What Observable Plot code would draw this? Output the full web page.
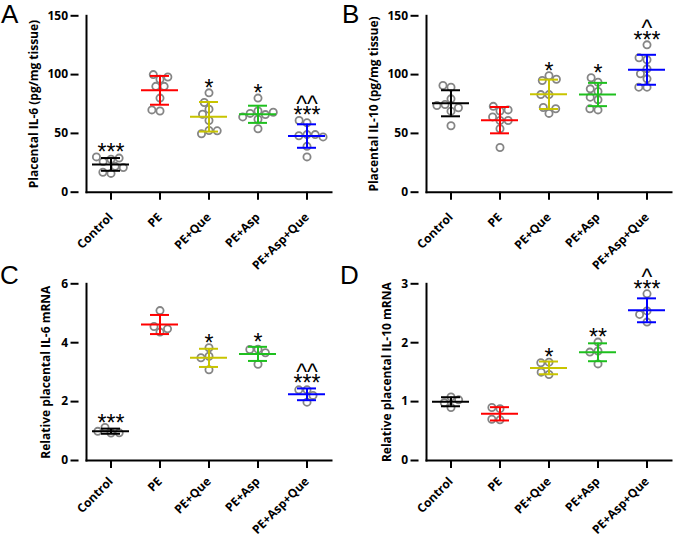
<!DOCTYPE html>
<html><head><meta charset="utf-8">
<script src="https://cdn.jsdelivr.net/npm/d3@7"></script>
<script src="https://cdn.jsdelivr.net/npm/@observablehq/plot@0.6"></script>
<style>
body{margin:0;background:#fff;}
#wrap{position:relative;width:685px;height:538px;}
.panel{position:absolute;}
.letter{position:absolute;font-family:"Liberation Sans",Arial,sans-serif;font-size:26px;line-height:1;color:#000;}
</style></head><body><div id="wrap"></div>
<script>
const categories = ["Control", "PE", "PE+Que", "PE+Asp", "PE+Asp+Que"];
const groupColors = ["#000000", "#ff0000", "#c8c400", "#1ec01e", "#0000ff"];

// Panel A: placental IL-6 protein (pg/mg tissue)
const il6Protein = [
  [28, 26, 29, 30, 22, 16, 17, 21],
  [96, 100, 98, 90, 90, 80, 69, 70],
  [84.5, 70.6, 76.3, 66.3, 61, 52.5, 49.7, 52.2],
  [80, 69, 67, 66, 68, 64, 62, 54],
  [59, 61, 49, 48, 49, 47, 39, 30]
];
// Panel B: placental IL-10 protein (pg/mg tissue)
const il10Protein = [
  [89.3, 90.7, 79.4, 68.9, 74.6, 71.8, 73.7, 56.5],
  [69, 73, 70, 61, 64, 61, 54, 38],
  [99, 95, 96, 83, 83, 67, 72, 71],
  [93.5, 97.3, 85.6, 87.9, 78.6, 80.8, 70, 70.9],
  [125.3, 112.6, 114.3, 104.9, 100.7, 96.4, 89.3, 89.3]
];
// Panel C: relative IL-6 mRNA
const il6mRNA = [
  [0.93, 1.12, 0.94, 0.99],
  [5.09, 4.36, 4.55, 4.47],
  [3.83, 3.54, 3.49, 3.08],
  [3.78, 3.77, 3.66, 3.27],
  [2.40, 2.40, 2.21, 1.98]
];
// Panel D: relative IL-10 mRNA
const il10mRNA = [
  [1.08, 0.90, 0.98, 1.03],
  [0.88, 0.90, 0.69, 0.70],
  [1.67, 1.66, 1.46, 1.50],
  [2.01, 1.86, 1.84, 1.64],
  [2.83, 2.54, 2.48, 2.35]
];

// significance marks ("^" line sits above the "*" line)
const marksA = ["***", "", "*", "*", "^^\n***"];
const marksB = ["", "", "*", "*", "^\n***"];
const marksC = ["***", "", "*", "*", "^^\n***"];
const marksD = ["", "", "*", "**", "^\n***"];

const ticksProtein = [0, 50, 100, 150];
const ticksIL6mRNA = [0, 2, 4, 6];
const ticksIL10mRNA = [0, 1, 2, 3];

const W = 342, ML = 76, MR = 2, PAD_OUT = 0.15;
const outerGap = PAD_OUT * (W - ML - MR) / (categories.length + 2 * PAD_OUT);

function panel({values, marks, yMax, yTicks, label, labelOffset, height, marginTop, marginBottom, catPadding}) {
  const points = values.flatMap((vals, i) => vals.map(v => ({group: categories[i], value: v})));
  const summary = values.map((vals, i) => {
    const m = d3.mean(vals), s = d3.deviation(vals);
    return {group: categories[i], color: groupColors[i], mean: m, lo: m - s, hi: m + s,
            top: Math.max(d3.max(vals), m + s), sig: marks[i]};
  });
  const errStyle = {fx: "group", stroke: "color", strokeWidth: 2};
  return Plot.plot({
    width: W, height,
    marginLeft: ML, marginRight: MR, marginTop, marginBottom,
    style: {fontFamily: "'Open Sans', sans-serif", fontSize: "12px", fontWeight: 700, color: "#000", background: "transparent", overflow: "visible"},
    fx: {domain: categories, paddingInner: 0, paddingOuter: PAD_OUT, label: null},
    y: {domain: [0, yMax]},
    color: {type: "identity"},
    marks: [
      Plot.frame({facet: "super", anchor: "left", strokeWidth: 2}),
      Plot.frame({facet: "super", anchor: "bottom", strokeWidth: 2}),
      Plot.axisY({ticks: yTicks, tickFormat: d3.format("d"), tickSize: 8, tickPadding: 3, strokeWidth: 2, dx: -outerGap,
                  fontSize: 12, label, labelAnchor: "center", labelOffset, labelArrow: "none"}),
      Plot.axisFx({anchor: "bottom", tickRotate: -45, tickSize: 8, tickPadding: catPadding, strokeWidth: 2, fontSize: 12, label: null}),
      Plot.dot(points, Plot.dodgeX("middle", {fx: "group", y: "value", r: 3.6, padding: 1.5,
               stroke: "#858585", strokeWidth: 1.8, fill: "none"})),
      Plot.ruleX(summary, {...errStyle, x: null, y1: "lo", y2: "hi"}),
      Plot.tickY(summary, {...errStyle, y: "mean", insetLeft: 6, insetRight: 6}),
      Plot.tickY(summary, {...errStyle, y: "lo", insetLeft: 15, insetRight: 15}),
      Plot.tickY(summary, {...errStyle, y: "hi", insetLeft: 15, insetRight: 15}),
      Plot.text(summary, {fx: "group", y: "top", text: "sig", lineAnchor: "bottom", lineHeight: 0.5, dy: 3,
                fontSize: 23, fontFamily: "'Liberation Sans', Arial, sans-serif", fontWeight: 400, fill: "#000"})
    ]
  });
}

const wrap = document.getElementById("wrap");
function place(node, left, top) {
  const d = document.createElement("div");
  d.className = "panel";
  d.style.left = left + "px";
  d.style.top = top + "px";
  d.appendChild(node);
  wrap.appendChild(d);
}
function letter(t, left, top) {
  const d = document.createElement("div");
  d.className = "letter";
  d.style.left = left + "px";
  d.style.top = top + "px";
  d.textContent = t;
  wrap.appendChild(d);
}

place(panel({values: il6Protein, marks: marksA, yMax: 150, yTicks: ticksProtein,
  label: "Placental IL-6 (pg/mg tissue)", labelOffset: 57, height: 270, marginTop: 15.3, marginBottom: 78.3, catPadding: 15}), 0, 0);
place(panel({values: il10Protein, marks: marksB, yMax: 150, yTicks: ticksProtein,
  label: "Placental IL-10 (pg/mg tissue)", labelOffset: 57, height: 270, marginTop: 15.3, marginBottom: 78.3, catPadding: 15}), 340, 0);
place(panel({values: il6mRNA, marks: marksC, yMax: 6, yTicks: ticksIL6mRNA,
  label: "Relative placental IL-6 mRNA", labelOffset: 45, height: 268, marginTop: 13.3, marginBottom: 78, catPadding: 11}), 0, 270);
place(panel({values: il10mRNA, marks: marksD, yMax: 3, yTicks: ticksIL10mRNA,
  label: "Relative placental IL-10 mRNA", labelOffset: 44, height: 268, marginTop: 13.3, marginBottom: 78, catPadding: 11}), 340, 270);

letter("A", 1, 1);
letter("B", 342, 1);
letter("C", 0, 262);
letter("D", 340, 262);
</script></body></html>
